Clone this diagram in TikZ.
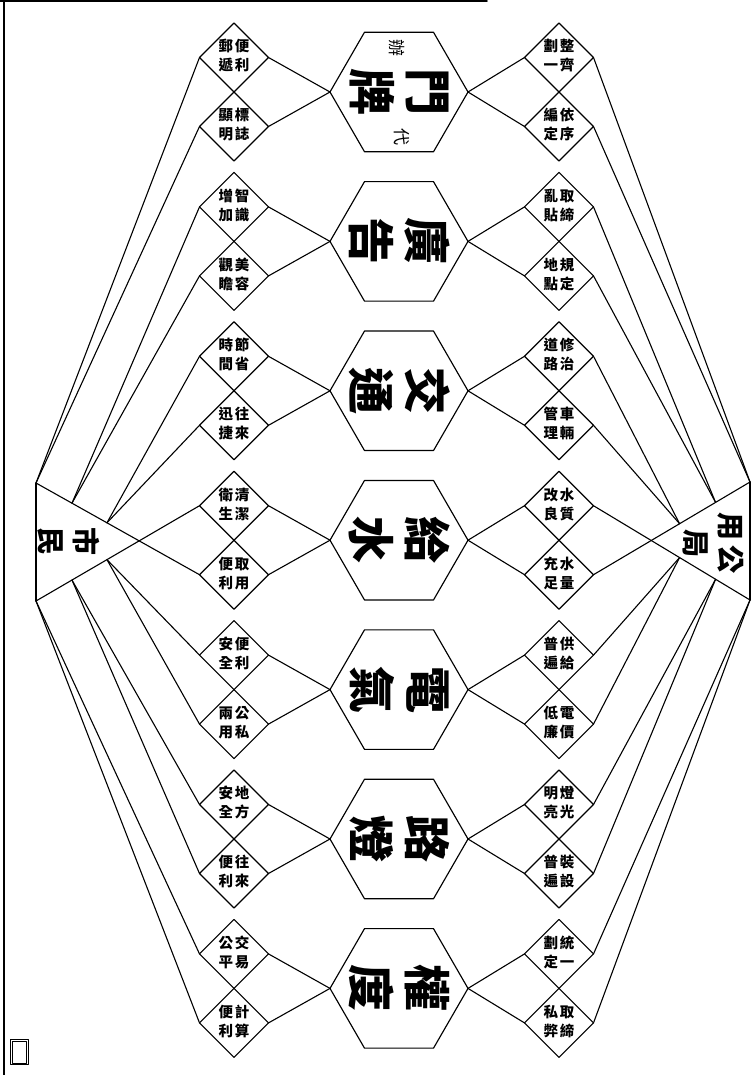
\documentclass[tikz,border=0pt]{standalone}
\usepackage{fontspec}
\newfontfamily\cjk{Noto Sans CJK TC}
\usetikzlibrary{shapes.geometric,calc}
% diamond text: 4 chars read in vertical columns, right column first
\def\dq#1#2#3#4{{\cjk\bfseries\fontsize{14.5}{19}\selectfont\begin{tabular}{@{}c@{\hspace{2pt}}c@{}}#3&#1\\#4&#2\end{tabular}}}
\newcommand\unitrow[7]{%
  \node[hexa] (H#1) at (399,#2) {};
  \node[bigtxt] at (399.5,#2) {#3};
  \node[dia] (La#1) at (234,#2-34.5) {\dq#4};
  \node[dia] (Lb#1) at (234,#2+34.5) {\dq#5};
  \node[dia] (Ra#1) at (559,#2-34.5) {\dq#6};
  \node[dia] (Rb#1) at (559,#2+34.5) {\dq#7};
  \draw[conn] (H#1.west) -- (La#1.east);
  \draw[conn] (H#1.west) -- (Lb#1.east);
  \draw[conn] (H#1.east) -- (Ra#1.west);
  \draw[conn] (H#1.east) -- (Rb#1.west);
}
\begin{document}
\begin{tikzpicture}[x=1pt,y=-1pt,line join=round,line cap=round,
  hexa/.style={regular polygon,regular polygon sides=6,minimum size=138pt,inner sep=0pt,outer sep=0pt,draw,line width=1.15pt},
  dia/.style={diamond,draw,minimum width=69pt,minimum height=69pt,inner sep=0pt,outer sep=0pt,line width=1.15pt},
  conn/.style={line width=1.1pt},
  bigtxt/.style={rotate=-90,align=center,inner sep=0pt,font=\cjk\bfseries\fontsize{47}{56}\selectfont},
  midtxt/.style={rotate=-90,align=center,inner sep=0pt,font=\cjk\bfseries\fontsize{28}{35}\selectfont},
  smalltxt/.style={rotate=-90,inner sep=0pt,font=\cjk\fontsize{17}{18}\selectfont}]
\useasboundingbox (0,0) rectangle (755,1075);
% page border
\draw[line width=2pt] (4,0) -- (4,1075);
\draw[line width=1.6pt] (0,1) -- (487,1);
\node[draw,line width=0.6pt,minimum width=18pt,minimum height=25pt,inner sep=0pt] (stamp) at (19,1052) {};
\draw[line width=0.4pt] ($(stamp.south west)+(2,-2)$) rectangle ($(stamp.north east)+(-2,2)$);

\unitrow{0}{92}{門\\牌}{便利郵遞}{標誌顯明}{整齊劃一}{依序編定}
\unitrow{1}{241.4}{廣\\告}{智識增加}{美容觀瞻}{取締亂貼}{規定地點}
\unitrow{2}{390.8}{交\\通}{節省時間}{往來迅捷}{修治道路}{車輛管理}
\unitrow{3}{540.2}{給\\水}{清潔衛生}{取用便利}{水質改良}{水量充足}
\unitrow{4}{689.6}{電\\氣}{便利安全}{公私兩用}{供給普遍}{電價低廉}
\unitrow{5}{839}{路\\燈}{地方安全}{往來便利}{燈光明亮}{裝設普遍}
\unitrow{6}{988.4}{權\\度}{交易公平}{計算便利}{統一劃定}{取締私弊}

\node[smalltxt] (ban) at (397,48) {辦};
\node[smalltxt] (dai) at (402,137) {代};

% citizens triangle (left)
\coordinate (A) at (36,483);
\coordinate (B) at (36,601);
\draw[conn] (A) -- (B);
\draw[conn] (A) -- (Lb3.west);
\draw[conn] (B) -- (La3.west);
\coordinate (P1) at ($(A)!0.22!(Lb3.west)$);
\coordinate (P2) at ($(A)!0.434!(Lb3.west)$);
\coordinate (Q1) at ($(B)!0.22!(La3.west)$);
\coordinate (Q2) at ($(B)!0.434!(La3.west)$);
\draw[conn] (La0.west) -- (A);
\draw[conn] (Lb0.west) -- (A);
\draw[conn] (La1.west) -- (P1);
\draw[conn] (Lb1.west) -- (P1);
\draw[conn] (La2.west) -- (P2);
\draw[conn] (Lb2.west) -- (P2);
\draw[conn] (La4.west) -- (Q2);
\draw[conn] (Lb4.west) -- (Q2);
\draw[conn] (La5.west) -- (Q1);
\draw[conn] (Lb5.west) -- (Q1);
\draw[conn] (La6.west) -- (B);
\draw[conn] (Lb6.west) -- (B);
\node[midtxt] (shimin) at (69,541) {市\\民};

% bureau triangle (right)
\coordinate (C) at (750,482);
\coordinate (D) at (750,600);
\draw[conn] (C) -- (D);
\draw[conn] (C) -- (Rb3.east);
\draw[conn] (D) -- (Ra3.east);
\coordinate (P3) at ($(C)!0.22!(Rb3.east)$);
\coordinate (P4) at ($(C)!0.45!(Rb3.east)$);
\coordinate (Q3) at ($(D)!0.22!(Ra3.east)$);
\coordinate (Q4) at ($(D)!0.45!(Ra3.east)$);
\draw[conn] (Ra0.east) -- (C);
\draw[conn] (Rb0.east) -- (C);
\draw[conn] (Ra1.east) -- (P3);
\draw[conn] (Rb1.east) -- (P3);
\draw[conn] (Ra2.east) -- (P4);
\draw[conn] (Rb2.east) -- (P4);
\draw[conn] (Ra4.east) -- (Q4);
\draw[conn] (Rb4.east) -- (Q4);
\draw[conn] (Ra5.east) -- (Q3);
\draw[conn] (Rb5.east) -- (Q3);
\draw[conn] (Ra6.east) -- (D);
\draw[conn] (Rb6.east) -- (D);
\node[midtxt] (bureau) at (713,543) {用\hspace{5pt}公\\局};
\end{tikzpicture}
\end{document}
